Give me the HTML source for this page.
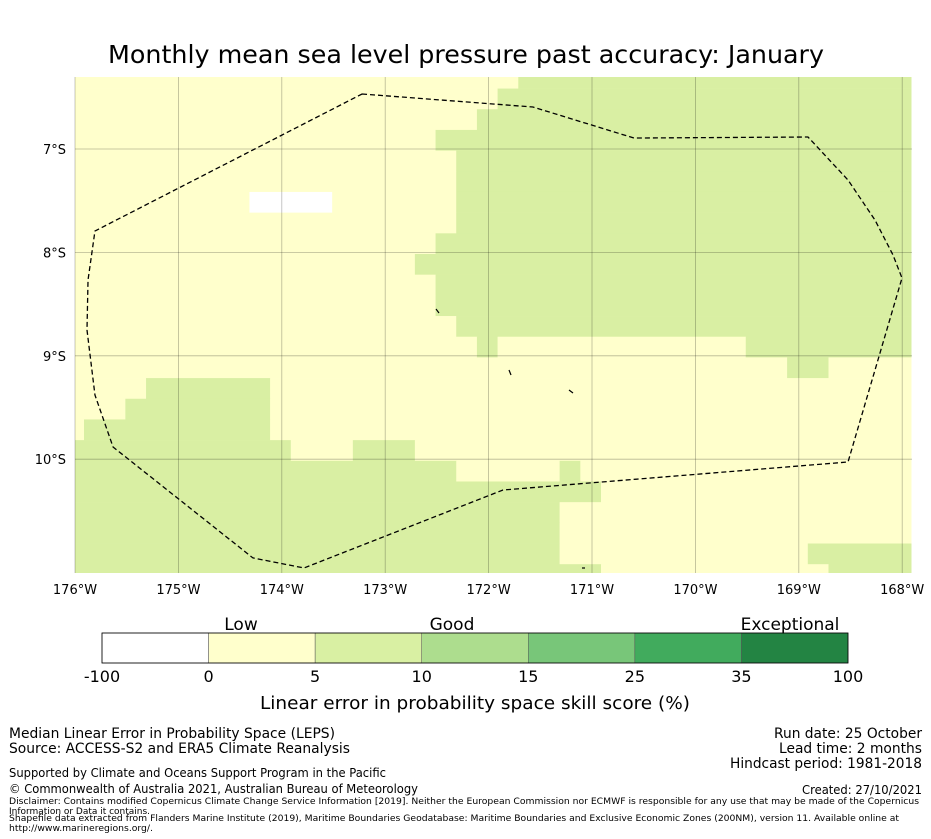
<!DOCTYPE html>
<html><head><meta charset="utf-8"><style>
html,body{margin:0;padding:0;background:#fff;}
svg{display:block;font-family:"DejaVu Sans","Liberation Sans",sans-serif;}
</style></head><body>
<svg id="fig" width="931" height="839" viewBox="0 0 931 839" xmlns="http://www.w3.org/2000/svg">
<text x="466" y="63" font-size="24.5" text-anchor="middle" textLength="716" lengthAdjust="spacingAndGlyphs" fill="#000">Monthly mean sea level pressure past accuracy: January</text>
<defs><clipPath id="mapclip"><rect x="75" y="77" width="837" height="496"/></clipPath></defs>
<g id="map" clip-path="url(#mapclip)"></g>
<g id="grid"></g>
<g id="eez"></g>
<g id="ticks"></g>
<g id="cbar"></g>
<text x="475" y="709" font-size="18" text-anchor="middle" textLength="430" lengthAdjust="spacingAndGlyphs">Linear error in probability space skill score (%)</text>
<g font-size="14">
<text x="9" y="738" textLength="326" lengthAdjust="spacingAndGlyphs">Median Linear Error in Probability Space (LEPS)</text>
<text x="9" y="753" textLength="341" lengthAdjust="spacingAndGlyphs">Source: ACCESS-S2 and ERA5 Climate Reanalysis</text>
<text x="9" y="777" font-size="12.5" textLength="377" lengthAdjust="spacingAndGlyphs">Supported by Climate and Oceans Support Program in the Pacific</text>
<text x="9" y="793" font-size="12.5" textLength="409" lengthAdjust="spacingAndGlyphs">© Commonwealth of Australia 2021, Australian Bureau of Meteorology</text>
</g>
<g font-size="14" text-anchor="end">
<text x="922" y="738" textLength="148" lengthAdjust="spacingAndGlyphs">Run date: 25 October</text>
<text x="922" y="753" textLength="143" lengthAdjust="spacingAndGlyphs">Lead time: 2 months</text>
<text x="922" y="768" textLength="192" lengthAdjust="spacingAndGlyphs">Hindcast period: 1981-2018</text>
<text x="922" y="794" font-size="12.5" textLength="120" lengthAdjust="spacingAndGlyphs">Created: 27/10/2021</text>
</g>
<g font-size="9">
<text x="9" y="804" textLength="910" lengthAdjust="spacingAndGlyphs">Disclaimer: Contains modified Copernicus Climate Change Service Information [2019]. Neither the European Commission nor ECMWF is responsible for any use that may be made of the Copernicus</text>
<text x="9" y="814" textLength="141" lengthAdjust="spacingAndGlyphs">Information or Data it contains.</text>
<text x="9" y="821" textLength="890" lengthAdjust="spacingAndGlyphs">Shapefile data extracted from Flanders Marine Institute (2019), Maritime Boundaries Geodatabase: Maritime Boundaries and Exclusive Economic Zones (200NM), version 11. Available online at</text>
<text x="9" y="831" textLength="144" lengthAdjust="spacingAndGlyphs">http://www.marineregions.org/.</text>
</g>
</svg>
<script>
// ---- data ----
const lonTicks = [-176,-175,-174,-173,-172,-171,-170,-169,-168];
const latTicks = [-7,-8,-9,-10];
const cellOriginLon = -175.913;
const cellOriginLat = -6.2155; // top edge of row 0 (first partial row)
const cellSize = 0.2;
// run-length encoded category rows (Y: 0-5, G: 5-10, W: -100-0)
const gridRows = [
 [["Y",22],["G",19]],
 [["Y",21],["G",20]],
 [["Y",20],["G",21]],
 [["Y",18],["G",23]],
 [["Y",19],["G",22]],
 [["Y",19],["G",22]],
 [["Y",9],["W",4],["Y",6],["G",22]],
 [["Y",19],["G",22]],
 [["Y",18],["G",23]],
 [["Y",17],["G",24]],
 [["Y",18],["G",23]],
 [["Y",18],["G",23]],
 [["Y",19],["G",22]],
 [["Y",20],["G",1],["Y",12],["G",8]],
 [["Y",35],["G",2],["Y",4]],
 [["Y",4],["G",6],["Y",31]],
 [["Y",3],["G",7],["Y",31]],
 [["Y",1],["G",9],["Y",31]],
 [["G",11],["Y",3],["G",3],["Y",24]],
 [["G",19],["Y",5],["G",1],["Y",16]],
 [["G",26],["Y",15]],
 [["G",24],["Y",17]],
 [["G",24],["Y",17]],
 [["G",24],["Y",12],["G",5]],
 [["G",26],["Y",11],["G",4]]
];
const eezLon = [-173.224,-171.571,-170.594,-168.911,-168.524,-168.263,-168.089,-168.002,-168.524,-171.861,-173.785,-174.279,-175.632,-175.807,-175.884,-175.874,-175.807];
const eezLat = [-6.468,-6.594,-6.894,-6.884,-7.300,-7.687,-8.025,-8.248,-10.027,-10.298,-11.052,-10.955,-9.882,-9.379,-8.750,-8.267,-7.793];
const cbarLabels = ["-100","0","5","10","15","25","35","100"];
const cbarColors = ["#ffffff","#ffffcc","#d9f0a3","#addd8e","#78c679","#41ab5d","#238443"];
const cbarCats = ["Low","Good","Exceptional"];
const catColor = {W:"#ffffff",Y:"#ffffcc",G:"#d9efa3"};

// ---- axis functions ----
const X0=75, Y7=149, PPD=103.4;
function lonToX(lon){return X0+(lon+176)*PPD;}
function latToY(lat){return Y7+(-7-lat)*PPD;}
const NS="http://www.w3.org/2000/svg";
function mk(tag,attrs,parent){const e=document.createElementNS(NS,tag);for(const k in attrs)e.setAttribute(k,attrs[k]);parent.appendChild(e);return e;}

const map=document.getElementById('map');
gridRows.forEach((row,r)=>{
  let c=0;
  const lat1=cellOriginLat-r*cellSize, lat2=lat1-cellSize;
  row.forEach(([cat,n])=>{
    const lonA=cellOriginLon-cellSize+c*cellSize, lonB=lonA+n*cellSize;
    const x1=lonToX(lonA), x2=lonToX(lonB), y1=latToY(lat1), y2=latToY(lat2);
    const e=mk('rect',{x:x1,y:y1,width:x2-x1+0.3,height:y2-y1+0.3,fill:catColor[cat]},map);
    
    
    c+=n;
  });
});

const grid=document.getElementById('grid');
lonTicks.forEach(l=>{const x=lonToX(l);
  const e=mk('line',{x1:x,x2:x,y1:77,y2:573,stroke:"#000","stroke-opacity":0.28,"stroke-width":0.8},grid);
  
  
});
latTicks.forEach(l=>{const y=latToY(l);
  const e=mk('line',{x1:75,x2:912,y1:y,y2:y,stroke:"#000","stroke-opacity":0.28,"stroke-width":0.8},grid);
  
  
});

const eez=document.getElementById('eez');
let pts=eezLon.map((l,i)=>lonToX(l)+","+latToY(eezLat[i])).join(" ");
const poly=mk('polygon',{points:pts,fill:"none",stroke:"#000","stroke-width":1.3,"stroke-dasharray":"5,3"},eez);


[[436,309,439,313],[509,370,511,375],[569,390,573,393],[582,568,585,568]].forEach(s=>{
  const e=mk('line',{x1:s[0],y1:s[1],x2:s[2],y2:s[3],stroke:"#000","stroke-width":1.2},eez);
  
  
});

const ticks=document.getElementById('ticks');
lonTicks.forEach(l=>{
  const t=mk('text',{x:lonToX(l),y:594,"font-size":13,"text-anchor":"middle"},ticks);
  t.textContent=Math.abs(l)+"°W";
  
  
});
latTicks.forEach(l=>{
  const t=mk('text',{x:66,y:latToY(l)+5,"font-size":13,"text-anchor":"end"},ticks);
  t.textContent=Math.abs(l)+"°S";
  
  
});

const cbar=document.getElementById('cbar');
const cbX=102, cbW=746, cbY=633, cbH=30, seg=cbW/cbarColors.length;
cbarColors.forEach((col,i)=>{
  const e=mk('rect',{x:cbX+i*seg,y:cbY,width:seg,height:cbH,fill:col,stroke:"#555","stroke-width":0.5},cbar);
  
  
});
const frame=mk('rect',{x:cbX,y:cbY,width:cbW,height:cbH,fill:"none",stroke:"#000","stroke-width":0.8},cbar);


cbarLabels.forEach((lab,i)=>{
  const t=mk('text',{x:cbX+i*seg,y:682,"font-size":16,"text-anchor":"middle"},cbar);
  t.textContent=lab;
  
  
});
const catX=[241,452,790];
cbarCats.forEach((lab,i)=>{
  const t=mk('text',{x:catX[i],y:630,"font-size":17,"text-anchor":"middle"},cbar);
  t.textContent=lab;
  
  
});
</script>
</body></html>
